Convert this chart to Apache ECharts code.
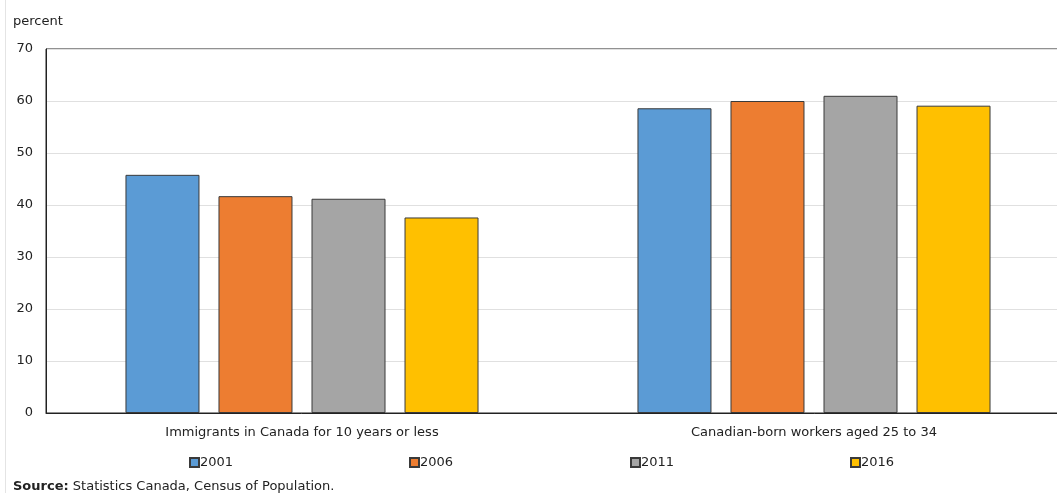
<!DOCTYPE html>
<html>
<head>
<meta charset="utf-8">
<script src="https://cdn.jsdelivr.net/npm/echarts@6/dist/echarts.min.js"></script>
<style>
  html, body { margin: 0; padding: 0; background: #fff; overflow: hidden; }
  #chart { width: 1070px; height: 493px; }
</style>
</head>
<body>
<div id="chart"></div>
<script>
// Share of workers, by group and census year (percent)
const categories = ['Immigrants in Canada for 10 years or less', 'Canadian-born workers aged 25 to 34'];
const years = ['2001', '2006', '2011', '2016'];
const values2001 = [45.8, 58.6];
const values2006 = [41.7, 60.0];
const values2011 = [41.2, 61.0];
const values2016 = [37.6, 59.1];
const yTicks = [0, 10, 20, 30, 40, 50, 60, 70];

const colors = ['#5B9BD5', '#ED7D31', '#A5A5A5', '#FFC000'];
const seriesValues = [values2001, values2006, values2011, values2016];
const font = 'Verdana, "DejaVu Sans", sans-serif';
const legendLeft = [189, 409, 630, 850];

const chart = echarts.init(document.getElementById('chart'), null, { renderer: 'canvas' });

chart.setOption({
  animation: false,
  grid: {
    left: 46, right: 0, top: 49, bottom: 80,
    show: true, borderColor: '#222', borderWidth: 1, backgroundColor: 'transparent'
  },
  xAxis: {
    type: 'category',
    data: categories,
    axisLine: { lineStyle: { color: '#222', width: 1 } },
    axisTick: { show: false },
    axisLabel: { color: '#222', fontFamily: font, fontSize: 13, margin: 13 }
  },
  yAxis: {
    type: 'value',
    min: yTicks[0],
    max: yTicks[yTicks.length - 1],
    interval: 10,
    axisLine: { show: true, lineStyle: { color: '#222', width: 1 } },
    axisTick: { show: false },
    axisLabel: { color: '#222', fontFamily: font, fontSize: 13, margin: 13, padding: [4, 0, 0, 0] },
    splitLine: { lineStyle: { color: '#e0e0e0', width: 1 } }
  },
  legend: years.map((y, i) => ({
    data: [y],
    left: legendLeft[i],
    top: 456,
    icon: 'rect',
    itemWidth: 9,
    itemHeight: 9,
    itemGap: 0,
    padding: 0,
    textStyle: { color: '#222', fontFamily: font, fontSize: 13, padding: [0, 0, 0, -4] }
  })),
  series: years.map((y, i) => ({
    name: y,
    type: 'bar',
    data: seriesValues[i],
    barWidth: 74,
    barGap: '25.7%',
    itemStyle: { color: colors[i], borderColor: '#3a3a3a', borderWidth: 1 }
  })),
  graphic: [
    {
      type: 'line',
      shape: { x1: 5.5, y1: 0, x2: 5.5, y2: 493 },
      style: { stroke: '#e4e4e4', lineWidth: 1 }
    },
    {
      type: 'text',
      left: 13, top: 15,
      style: { text: 'percent', fill: '#222', font: '13px ' + font }
    },
    {
      type: 'text',
      left: 13, top: 480,
      style: {
        text: '{b|Source:} Statistics Canada, Census of Population.',
        fill: '#222',
        font: '13px ' + font,
        rich: { b: { fontWeight: 'bold', fontFamily: font, fontSize: 13, fill: '#222' } }
      }
    }
  ]
});
</script>
</body>
</html>
